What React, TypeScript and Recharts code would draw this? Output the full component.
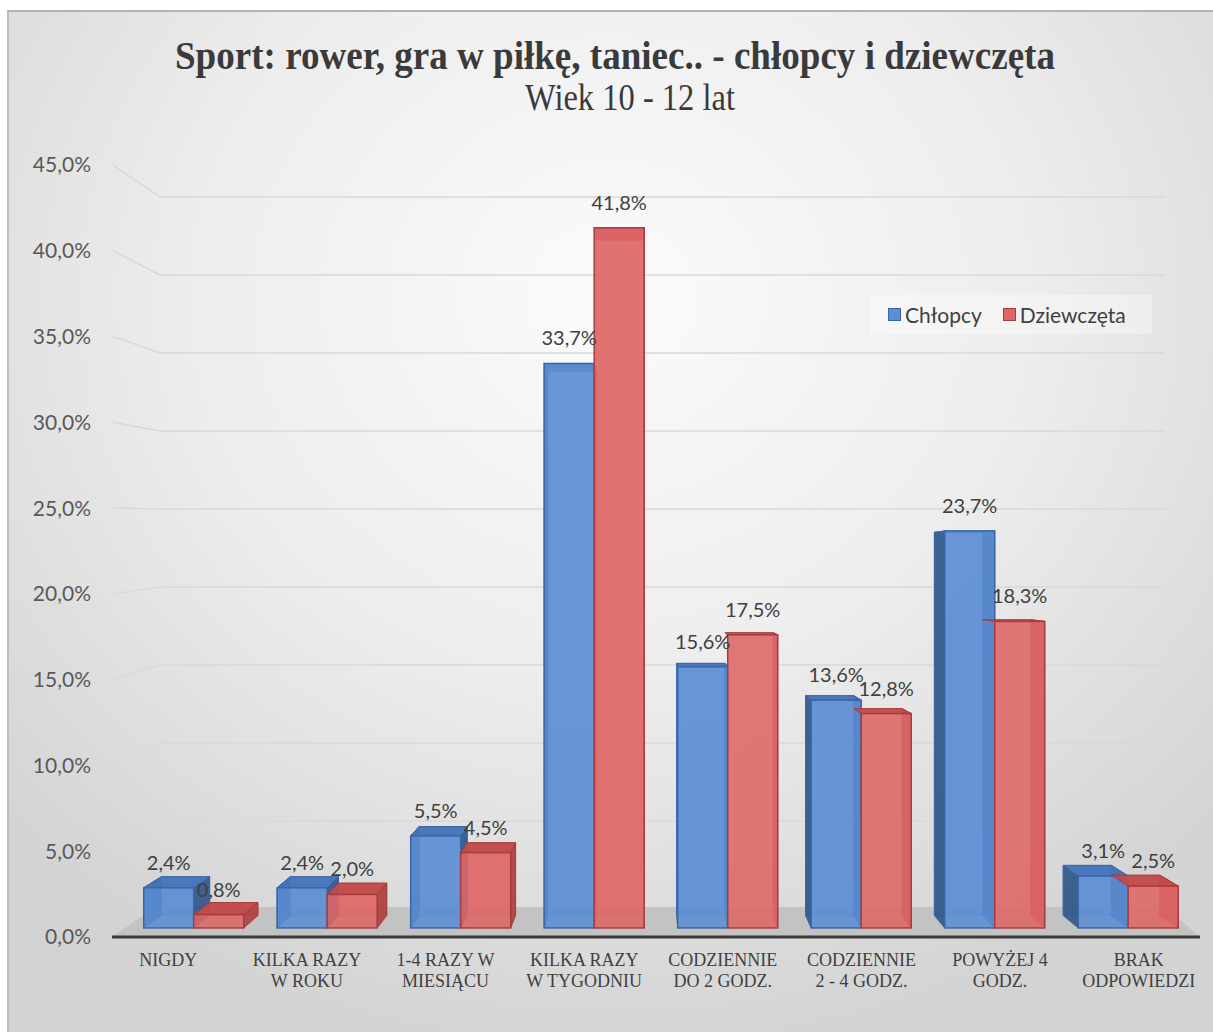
import { BarChart, Bar, XAxis, YAxis, CartesianGrid, ReferenceArea, LabelList } from "recharts";

const CATEGORIES = [
  "NIGDY",
  "KILKA RAZY\nW ROKU",
  "1-4 RAZY W\nMIESIĄCU",
  "KILKA RAZY\nW TYGODNIU",
  "CODZIENNIE\nDO 2 GODZ.",
  "CODZIENNIE\n2 - 4 GODZ.",
  "POWYŻEJ 4\nGODZ.",
  "BRAK\nODPOWIEDZI",
];
const BOYS = [2.4, 2.4, 5.5, 33.7, 15.6, 13.6, 23.7, 3.1];
const GIRLS = [0.8, 2.0, 4.5, 41.8, 17.5, 12.8, 18.3, 2.5];
const Y_TICKS = [0, 5, 10, 15, 20, 25, 30, 35, 40, 45];
const GRID_TICKS = [5, 10, 15, 20, 25, 30, 35, 40, 45];

const TITLE = "Sport: rower, gra w piłkę, taniec.. - chłopcy i dziewczęta";
const SUBTITLE = "Wiek 10 - 12 lat";

// depth planes of the fake 3d: bars sit a bit behind the front axis, grid on the back wall
const BAR_DOMAIN = [-0.54, 45.55];
const GRID_DOMAIN = [-2.44, 47.05];

const BLUE = { front: "#5b8dd4", edge: "#3a66a8", top: "#4474b8", side: "#2f5688" };
const RED = { front: "#de6666", edge: "#a83c3c", top: "#c24a4a", side: "#ad4040" };

const data = CATEGORIES.map((cat, i) => ({ cat, boys: BOYS[i], girls: GIRLS[i] }));

const VP = { x: 650, y: 572 };
const DEPTH = 0.035;

const pct = (v: number) => v.toFixed(1).replace(".", ",") + "%";

function makeBox(pal: typeof BLUE, first: boolean) {
  return (props: any) => {
    const { x, y, width, height } = props;
    if (!height || height <= 0) return <g />;
    const b = (px: number, py: number) => [px + DEPTH * (VP.x - px), py + DEPTH * (VP.y - py)];
    const TL = [x, y], TR = [x + width, y], BR = [x + width, y + height], BL = [x, y + height];
    const bTL = b(x, y), bTR = b(x + width, y), bBR = b(x + width, y + height), bBL = b(x, y + height);
    const pts = (arr: number[][]) => arr.map((p) => p.join(",")).join(" ");
    // the second bar of a pair would poke into its neighbour when the depth goes left
    const goesLeft = x + width / 2 > VP.x;
    const showBack = first || !goesLeft;
    return (
      <g>
        {showBack && (
          <polygon points={pts([bTL, bTR, bBR, bBL])} fill={pal.front} fillOpacity={0.35} stroke={pal.edge} strokeOpacity={0.6} />
        )}
        {first && <polygon points={pts([TL, bTL, bBL, BL])} fill={pal.side} fillOpacity={0.9} stroke={pal.edge} />}
        <polygon points={pts([TR, bTR, bBR, BR])} fill={pal.side} fillOpacity={0.9} stroke={pal.edge} />
        <polygon points={pts([TL, TR, bTR, bTL])} fill={pal.top} fillOpacity={0.95} stroke={pal.edge} />
        <rect x={x} y={y} width={width} height={height} fill={pal.front} fillOpacity={0.88} stroke={pal.edge} strokeWidth={1.5} />
      </g>
    );
  };
}

const CategoryTick = (props: any) => {
  const { x, y, payload } = props;
  const lines = String(payload.value).split("\n");
  return (
    <text x={x} y={y} textAnchor="middle" fill="#404040" fontFamily="'Liberation Serif', serif" fontSize={18}>
      {lines.map((l, i) => (
        <tspan key={i} x={x} dy={i === 0 ? 21 : 21}>
          {l}
        </tspan>
      ))}
    </text>
  );
};

const Floor = (props: any) => {
  const { x, y, width, height } = props;
  const top = y + 8;
  const bottom = y + height;
  return (
    <g>
      <polygon
        points={`${x + 56},${top} ${x + width - 43},${top} ${x + width - 8},${bottom} ${x + 13},${bottom}`}
        fill="#c3c3c3"
      />
      <line x1={x + 13} y1={bottom} x2={x + width - 8} y2={bottom} stroke="#3a3a3a" strokeWidth={3} />
    </g>
  );
};

const GridLine = (p: any) => {
  const { x1, x2, y1 } = p;
  // skip the plot border lines, only the tick lines are wanted
  if (p.y !== undefined && (Math.abs(y1 - p.y) < 2 || Math.abs(y1 - (p.y + p.height)) < 2)) return <g key={`gl-${y1}`} />;
  const fy = y1 * 1.0997 - 51.6;
  return (
    <g key={`gl-${y1}`}>
      <line x1={x1 + 14} y1={fy} x2={x1 + 61} y2={y1} stroke="#d9d9d9" strokeWidth={1.5} />
      <line x1={x1 + 61} y1={y1} x2={x2 - 43} y2={y1} stroke="#d9d9d9" strokeWidth={1.5} />
    </g>
  );
};

const SERIES = [
  { key: "boys", name: "Chłopcy", pal: BLUE },
  { key: "girls", name: "Dziewczęta", pal: RED },
];

export default function App() {
  return (
    <div style={{ position: "relative", width: 1213, height: 1032, background: "#fff", overflow: "hidden" }}>
      <style>{"body{margin:0}"}</style>
      <div
        style={{
          position: "absolute",
          left: 7,
          top: 10,
          width: 1206,
          height: 1022,
          boxSizing: "border-box",
          borderTop: "2px solid #b4b4b4",
          borderLeft: "2px solid #bdbdbd",
          background: "radial-gradient(ellipse 70% 75% at 50% 28%, #fbfbfb 0%, #ededed 50%, #d3d3d3 100%)",
        }}
      />
      <svg style={{ position: "absolute", left: 0, top: 0 }} width={1213} height={130}>
        <text x={615} y={69} textAnchor="middle" fontFamily="'Liberation Serif', serif" fontWeight="bold" fontSize={39} fill="#3a3a3a" textLength={880} lengthAdjust="spacingAndGlyphs">
          {TITLE}
        </text>
        <text x={630} y={110} textAnchor="middle" fontFamily="'Liberation Serif', serif" fontSize={37} fill="#3a3a3a" textLength={210} lengthAdjust="spacingAndGlyphs">
          {SUBTITLE}
        </text>
      </svg>
      <div style={{ position: "absolute", left: 0, top: 0 }}>
        <BarChart
          width={1213}
          height={1032}
          data={data}
          margin={{ top: 165, right: 5, left: 19, bottom: 35 }}
          barCategoryGap="12.5%"
          barGap={0}
        >
          <XAxis xAxisId="lab" dataKey="cat" height={60} axisLine={false} tickLine={false} tick={<CategoryTick />} interval={0} />
          <XAxis xAxisId="bar" dataKey="cat" hide height={0} padding={{ left: 28, right: 13 }} />
          <YAxis
            yAxisId="lab"
            width={80}
            domain={[0, 45]}
            ticks={Y_TICKS}
            allowDataOverflow
            tickFormatter={pct}
            axisLine={false}
            tickLine={false}
            tick={{ fill: "#595959", fontSize: 21, fontFamily: "Lato, sans-serif" }}
          />
          <YAxis yAxisId="bar" hide width={0} domain={BAR_DOMAIN} allowDataOverflow />
          <YAxis yAxisId="grid" hide width={0} domain={GRID_DOMAIN} ticks={GRID_TICKS} allowDataOverflow />
          <CartesianGrid xAxisId="lab" yAxisId="grid" vertical={false} horizontal={GridLine} />
          <ReferenceArea xAxisId="lab" yAxisId="grid" y1={GRID_DOMAIN[0]} y2={0} shape={<Floor />} />
          {SERIES.map((s, si) => (
            <Bar
              key={s.key}
              dataKey={s.key}
              name={s.name}
              xAxisId="bar"
              yAxisId="bar"
              fill={s.pal.front}
              shape={makeBox(s.pal, si === 0)}
              isAnimationActive={false}
            >
              <LabelList dataKey={s.key} position="top" offset={18} formatter={pct} fill="#404040" fontSize={20} fontFamily="Lato, sans-serif" />
            </Bar>
          ))}
        </BarChart>
      </div>
      <div
        style={{
          position: "absolute",
          left: 870,
          top: 295,
          width: 282,
          height: 39,
          background: "rgba(255,255,255,0.35)",
          display: "flex",
          alignItems: "center",
          paddingLeft: 18,
          boxSizing: "border-box",
          fontFamily: "Lato, sans-serif",
          fontSize: 21,
          color: "#404040",
        }}
      >
        {SERIES.map((s, i) => (
          <div key={s.key} style={{ display: "flex", alignItems: "center", marginRight: i === 0 ? 21 : 0 }}>
            <span
              style={{
                display: "inline-block",
                width: 11,
                height: 11,
                background: s.pal.front,
                border: `1.5px solid ${s.pal.edge}`,
                marginRight: 4,
              }}
            />
            {s.name}
          </div>
        ))}
      </div>
    </div>
  );
}
